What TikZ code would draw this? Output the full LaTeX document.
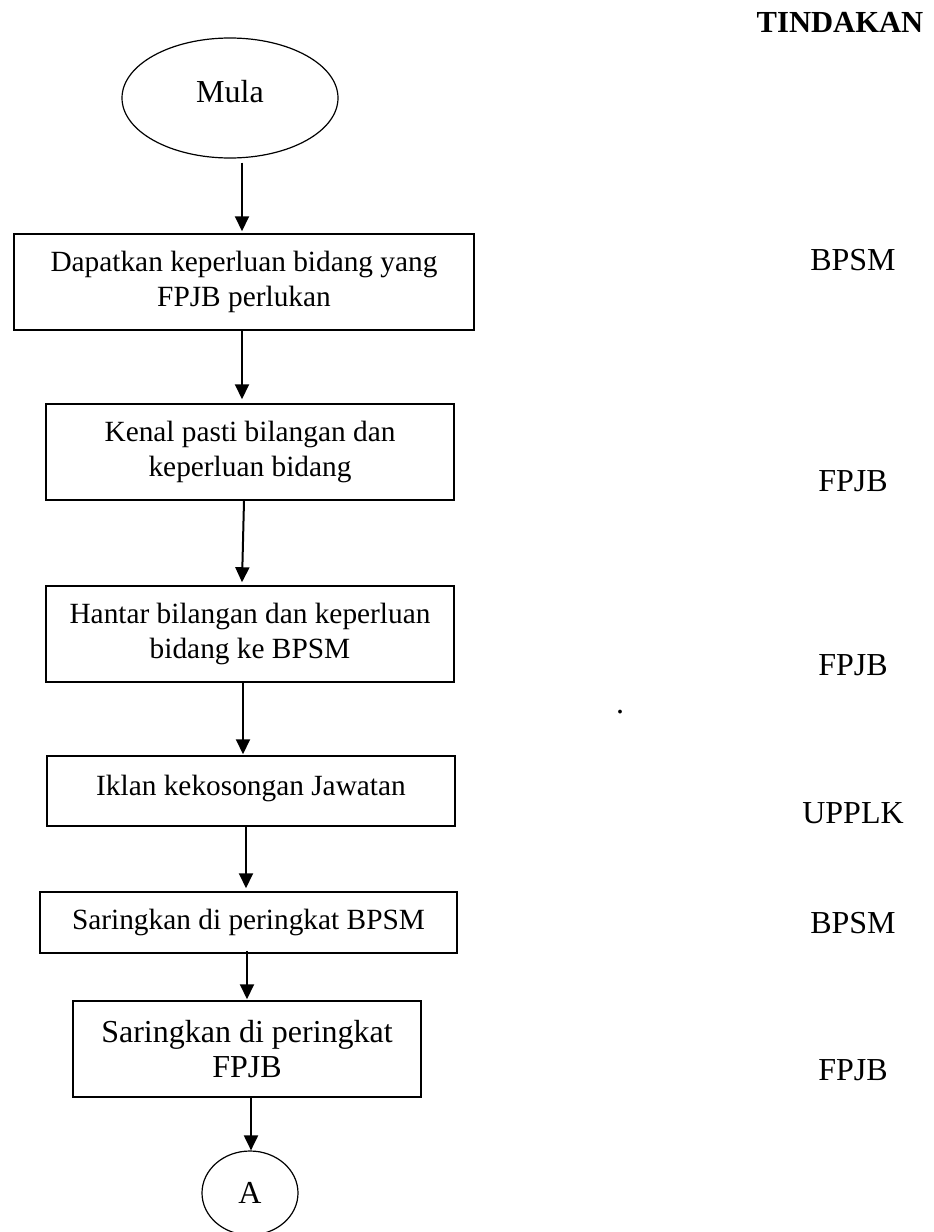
\documentclass[tikz,border=0pt]{standalone}
\usepackage{fontspec}
\setmainfont{Liberation Serif}
\usetikzlibrary{arrows.meta,shapes.geometric}
\begin{document}
\begin{tikzpicture}[x=0.5pt,y=-0.5pt,
  txt/.style={font=\fontsize{16pt}{17.5pt}\selectfont},
  btxt/.style={font=\fontsize{14.67pt}{17.5pt}\selectfont},
  stepbox/.style={draw,line width=0.75pt,rectangle,align=center,inner sep=0pt,btxt},
  ell/.style={draw,line width=0.6pt,ellipse,inner sep=0pt,txt},
  arr/.style={line width=1pt,-{Triangle[length=7.5pt,width=7pt]}},
  lab/.style={txt,anchor=base}]
\useasboundingbox (0,0) rectangle (933,1232);
\node[ell,minimum width=108pt,minimum height=60pt,text depth=7pt] (mula) at (230,98) {Mula};
\node[stepbox,minimum width=230pt,minimum height=48pt] (b1) at (244,282) {Dapatkan keperluan bidang yang\\FPJB perlukan};
\node[stepbox,minimum width=204pt,minimum height=48pt] (b2) at (250,452) {Kenal pasti bilangan dan\\keperluan bidang};
\node[stepbox,minimum width=204pt,minimum height=48pt] (b3) at (250,634) {Hantar bilangan dan keperluan\\bidang ke BPSM};
\node[stepbox,minimum width=204pt,minimum height=35pt,text height=10pt,text depth=6pt] (b4) at (251,791) {Iklan kekosongan Jawatan};
\node[stepbox,minimum width=208.5pt,minimum height=30.5pt] (b5) at (248.5,922.5) {Saringkan di peringkat BPSM};
\node[stepbox,minimum width=174pt,minimum height=48pt,font=\fontsize{16pt}{17.5pt}\selectfont] (b6) at (247,1049) {Saringkan di peringkat\\FPJB};
\node[ell,minimum width=48pt,minimum height=42pt] (ca) at (250,1193) {A};

\draw[arr] ([xshift=6pt,yshift=-2pt]mula.south) -- ([xshift=-1pt,yshift=1pt]b1.north);
\draw[arr] ([xshift=-1pt]b1.south) -- ([xshift=-4pt,yshift=2pt]b2.north);
\draw[arr] ([xshift=-3pt]b2.south) -- ([xshift=-4pt,yshift=1.5pt]b3.north);
\draw[arr] ([xshift=-3.5pt]b3.south) -- ([xshift=-4pt,yshift=0.5pt]b4.north);
\draw[arr] ([xshift=-2.5pt]b4.south) -- ([xshift=-1.25pt,yshift=1.5pt]b5.north);
\draw[arr] ([xshift=-0.75pt,yshift=1.5pt]b5.south) -- ([yshift=0.5pt]b6.north);
\draw[arr] ([xshift=2pt]b6.south) -- ([xshift=0.5pt]ca.north);

\node[lab,font=\fontsize{15.3pt}{17.5pt}\selectfont\bfseries] (tind) at (840,32) {TINDAKAN};
\node[lab] (r1) at (853,270) {BPSM};
\node[lab] (r2) at (853,491) {FPJB};
\node[lab] (r3) at (853,675) {FPJB};
\node[lab] (dot) at (620,713) {.};
\node[lab] (r4) at (853,823) {UPPLK};
\node[lab] (r5) at (853,933) {BPSM};
\node[lab] (r6) at (853,1080) {FPJB};
\end{tikzpicture}
\end{document}
